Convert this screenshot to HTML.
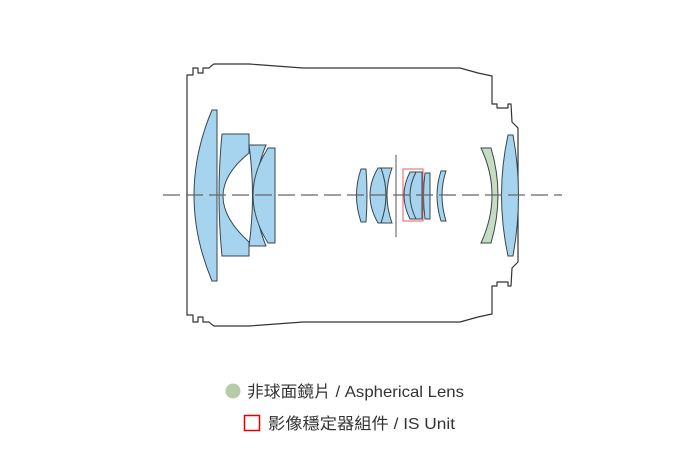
<!DOCTYPE html>
<html><head><meta charset="utf-8"><style>
html,body{margin:0;padding:0;background:#fff;width:700px;height:450px;overflow:hidden}
svg{display:block}
text{font-family:"Liberation Sans","Noto Sans CJK TC",sans-serif;font-size:16px;fill:#333}
</style></head><body>
<svg width="700" height="450" viewBox="0 0 700 450" xmlns="http://www.w3.org/2000/svg">
<g fill="none" stroke="#333" stroke-width="1.2" stroke-linejoin="round">
<path d="M187,75 L193,75 L193,68 L198,68 L198,73 L203,73 L203,68 L209,68 Q211,66 214,64 L249,64 L303,68 L460,68 L478,73 L492,76 L492,104 L497,104 L497,108 L508,108 L508,104 L511,104 L512,122 L518,128 L518,262 L512,268 L511,286 L508,286 L508,282 L497,282 L497,286 L492,286 L492,314 L478,317 L460,322 L303,322 L249,326 L214,326 Q211,324 209,322 L203,322 L203,317 L198,317 L198,322 L193,322 L193,315 L187,315 Z"/>
</g>
<g fill="#a6d3ee" stroke="#37474f" stroke-width="1">
<path d="M212,110 L217,110 L217,281 L212,281 Q176,195 212,110 Z"/>
<path d="M222,134 L249,134 L249,153 Q197,195 249,242 L249,256 L222,256 Q216,195 222,134 Z"/>
<path d="M249,145 L266,145 Q245,195 266,246 L249,246 Q256,195 249,145 Z"/>
<path d="M268,148 L275,148 L275,243 L268,243 Q238,195 268,148 Z"/>
<path d="M361,169 L366,169 Q368,195 366,222 L361,222 Q352,195 361,169 Z"/>
<path d="M378,168 L381,168 Q391,195 381,223 L378,223 Q362,195 378,168 Z"/>
<path d="M381,168 L392,168 Q382,195 392,223 L381,223 Q391,195 381,168 Z"/>
<path d="M410,172 L422,172 L422,219 L410,219 Q398,195 410,172 Z"/>
<path d="M425,173 L430,173 L430,219 L425,219 Q422,195 425,173 Z"/>
<path d="M441,171 L446,171 Q438,195 446,221 L441,221 Q433,195 441,171 Z"/>
<path d="M508,135 L513,135 Q524,195 513,256 L508,256 Q495,195 508,135 Z"/>
</g>
<path d="M410,172 L416,172 Q404,195 416,219 L410,219" fill="none" stroke="#37474f" stroke-width="1"/>
<path d="M481,148 L491,148 Q505,195 491,243 L481,243 Q503,195 481,148 Z" fill="#c5dcc0" stroke="#37474f" stroke-width="1"/>
<line x1="396" y1="155" x2="396" y2="237" stroke="#555" stroke-width="1"/>
<rect x="403" y="169" width="20" height="52" fill="none" stroke="#e06060" stroke-width="1"/>
<line x1="163" y1="195" x2="562" y2="195" stroke="#666" stroke-width="1.2" stroke-dasharray="17,6"/>
<circle cx="233" cy="391" r="7.5" fill="#b5cca8"/>
<text x="247" y="397" textLength="217" lengthAdjust="spacingAndGlyphs">非球面鏡片 / Aspherical Lens</text>
<rect x="244.5" y="415.5" width="15" height="15" fill="none" stroke="#e00000" stroke-width="1.5"/>
<text x="268" y="429" textLength="187" lengthAdjust="spacingAndGlyphs">影像穩定器組件 / IS Unit</text>
</svg>
</body></html>
